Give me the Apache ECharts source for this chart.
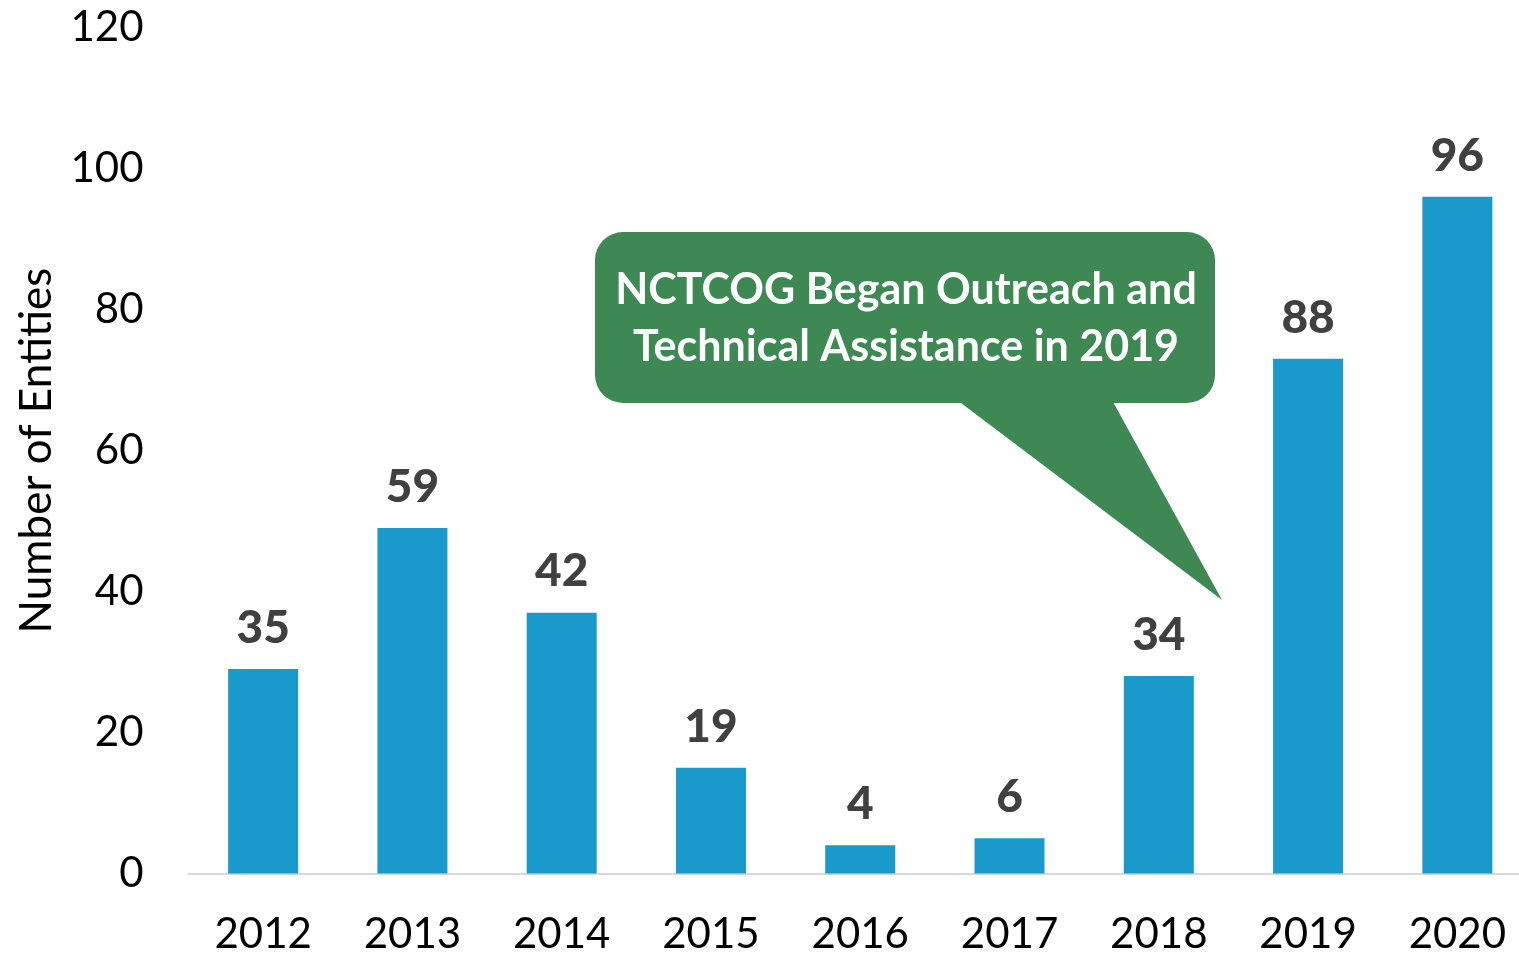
<!DOCTYPE html>
<html>
<head>
<meta charset="utf-8">
<script src="https://cdn.jsdelivr.net/npm/echarts@6/dist/echarts.min.js"></script>
<style>
  html, body { margin: 0; padding: 0; background: #fff; }
  #chart { width: 1519px; height: 955px; }
</style>
</head>
<body>
<div id="chart"></div>
<script>
// categories (years)
var years = ["2012", "2013", "2014", "2015", "2016", "2017", "2018", "2019", "2020"];
// bar heights as drawn in the picture
var barHeights = [29, 49, 37, 15, 4, 5, 28, 73, 96];
// numbers printed above the bars
var labelValues = [35, 59, 42, 19, 4, 6, 34, 88, 96];
var yTicks = [0, 20, 40, 60, 80, 100, 120];
var calloutText = "NCTCOG Began Outreach and\nTechnical Assistance in 2019";

var font = "Lato, 'Open Sans', sans-serif";
var myChart = echarts.init(document.getElementById("chart"));

var option = {
  backgroundColor: "#fff",
  animation: false,
  grid: {
    left: 188.5,
    right: -13,
    top: 27.5,
    bottom: 81.5,
    containLabel: false,
    outerBoundsMode: "none"
  },
  xAxis: {
    type: "category",
    data: years,
    axisTick: { show: false },
    axisLine: { lineStyle: { color: "#D9D9D9", width: 2 } },
    axisLabel: { color: "#000", fontSize: 42, fontFamily: font, margin: 40 }
  },
  yAxis: {
    type: "value",
    min: yTicks[0],
    max: yTicks[yTicks.length - 1],
    interval: 20,
    name: "Number of Entities",
    nameLocation: "middle",
    nameGap: 130,
    nameTextStyle: { color: "#000", fontSize: 44, fontFamily: font },
    axisLine: { show: false },
    axisTick: { show: false },
    splitLine: { show: false },
    axisLabel: { color: "#000", fontSize: 42, fontFamily: font, margin: 45 }
  },
  series: [
    {
      type: "bar",
      data: barHeights,
      barWidth: 70,
      itemStyle: { color: "#1A9ACB" },
      label: {
        show: true,
        position: "top",
        distance: 18,
        color: "#404040",
        fontWeight: 900,
        fontSize: 46,
        fontFamily: font,
        formatter: function (p) {
          return labelValues[p.dataIndex];
        }
      }
    }
  ],
  graphic: [
    {
      type: "polygon",
      shape: { points: [[957, 400], [1112, 400], [1222, 600]] },
      style: { fill: "#3E8853" }
    },
    {
      type: "rect",
      shape: { x: 595, y: 232, width: 620, height: 171, r: 28 },
      style: { fill: "#3E8853" }
    },
    {
      type: "text",
      x: 906,
      y: 319,
      style: {
        text: calloutText,
        fill: "#fff",
        font: "bold 43px " + font,
        align: "center",
        verticalAlign: "middle",
        lineHeight: 57
      }
    }
  ]
};

window.onresize = function () {
  myChart.resize();
};
myChart.setOption(option);
</script>
</body>
</html>
